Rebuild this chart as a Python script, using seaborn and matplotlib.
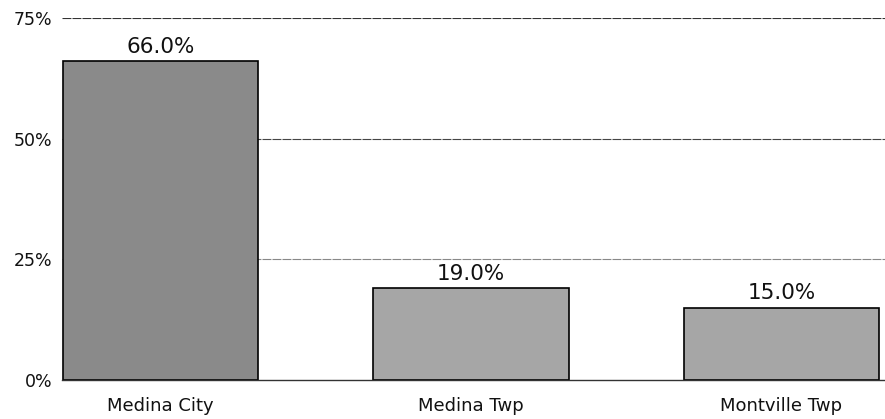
import matplotlib
matplotlib.use("Agg")
import matplotlib.pyplot as plt
import seaborn as sns
import pandas as pd

# data
places = ["Medina City", "Medina Twp", "Montville Twp"]
shares = [66.0, 19.0, 15.0]
bar_colors = ["#8a8a8a", "#a6a6a6", "#a6a6a6"]
y_ticks = [0, 25, 50, 75]
y_tick_labels = ["0%", "25%", "50%", "75%"]

sns.set_style("white")
plt.rcParams["font.family"] = ["DejaVu Sans"]

df = pd.DataFrame({"place": places, "share": shares})

fig = plt.figure(figsize=(8.85, 4.19), dpi=100)
ax = fig.add_axes([62 / 885, 39 / 419, 823 / 885, 362 / 419])

sns.barplot(data=df, x="place", y="share", hue="place", palette=bar_colors,
            legend=False, width=0.63, edgecolor="black", linewidth=1.2,
            saturation=1, ax=ax)

for c in ax.containers:
    ax.bar_label(c, fmt="%.1f%%", padding=3, fontsize=15.5, color="#111111")

ax.set_ylim(0, 75)
ax.set_xlim(-0.318, 2.334)
ax.set_yticks(y_ticks)
ax.set_yticklabels(y_tick_labels, fontsize=12.5, color="#111111")
ax.tick_params(axis="x", labelsize=13, pad=12, colors="#111111", length=0)
ax.tick_params(axis="y", length=0, pad=7)
ax.set_xlabel("")
ax.set_ylabel("")

for v, col in zip(y_ticks[1:], ["#888888", "#444444", "#333333"]):
    ax.axhline(v, color=col, lw=0.8, ls=(0, (8, 1)), zorder=0)

for side in ["top", "right", "left"]:
    ax.spines[side].set_visible(False)
ax.spines["bottom"].set_color("#333333")
ax.spines["bottom"].set_linewidth(1.0)

plt.savefig("out.png", dpi=100)
plt.close()
